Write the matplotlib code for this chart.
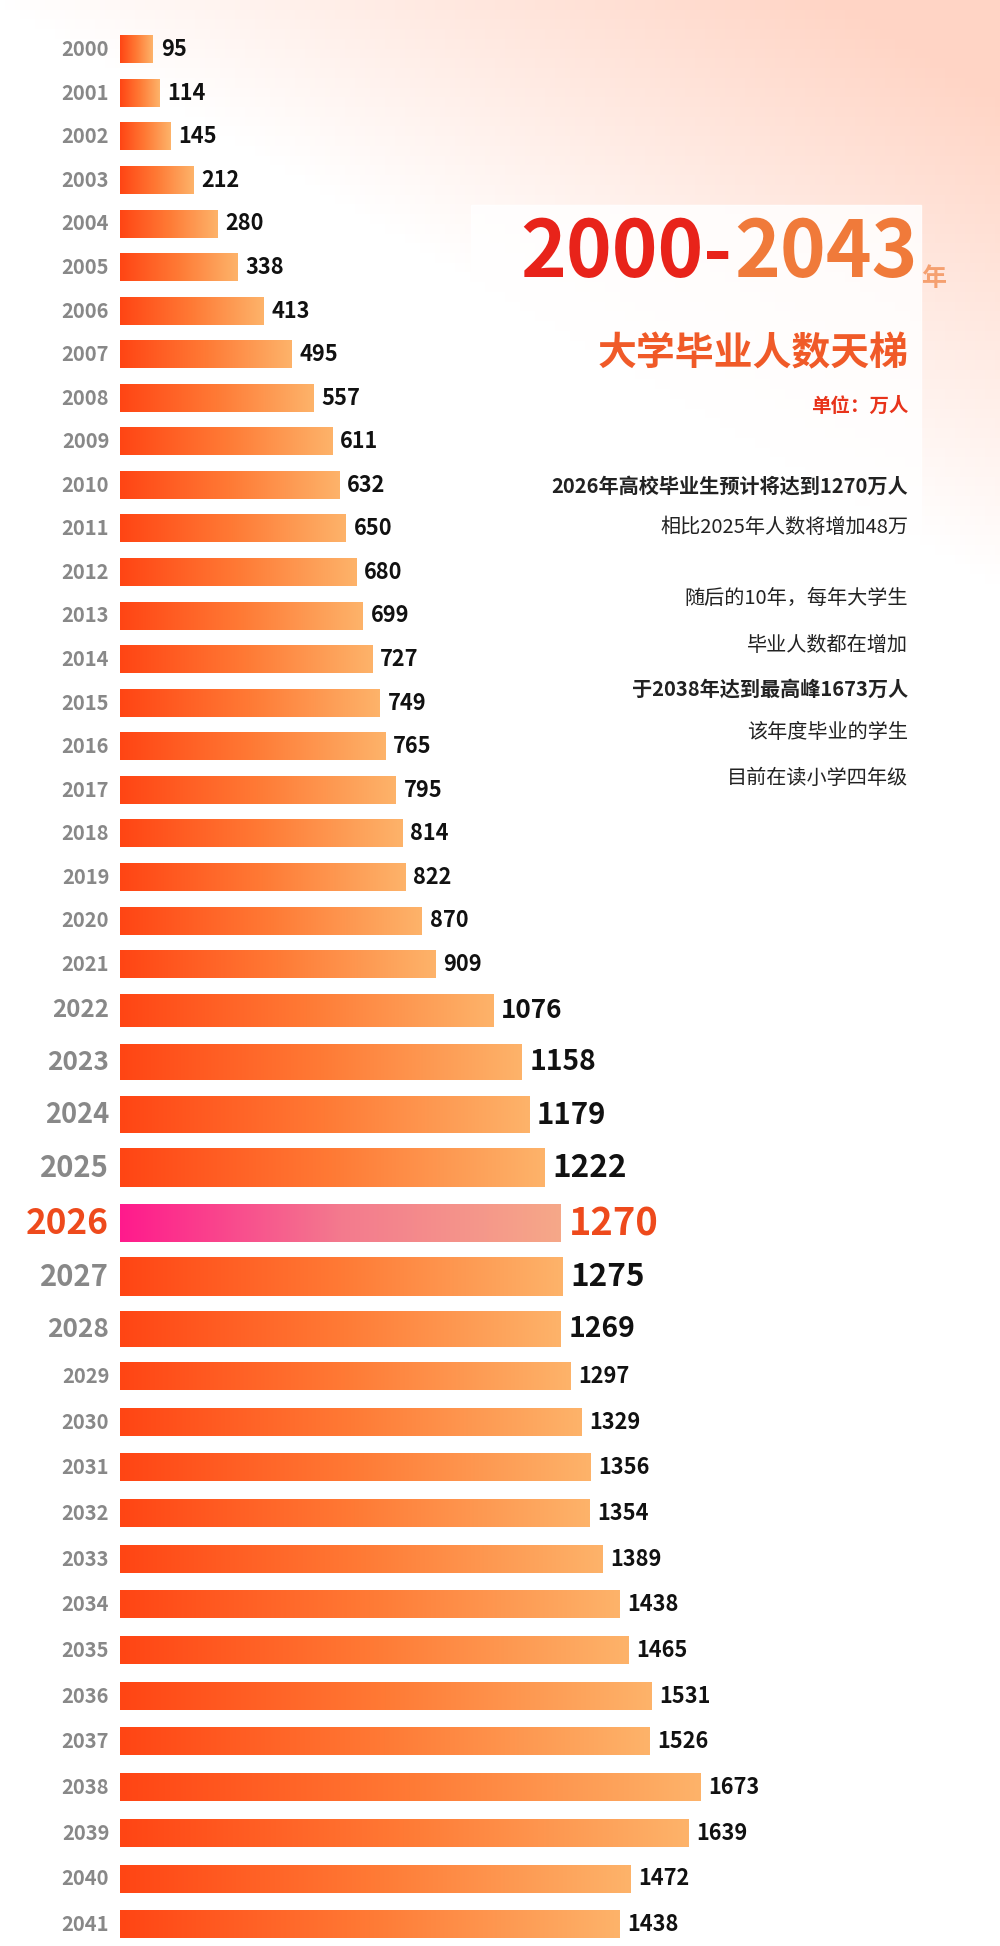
import numpy as np
import matplotlib.pyplot as plt
from matplotlib.colors import LinearSegmentedColormap

plt.rcParams['font.family'] = ['Noto Sans CJK SC', 'DejaVu Sans']

# 数据
years = list(range(2000, 2042))
values = [95, 114, 145, 212, 280, 338, 413, 495, 557, 611, 632, 650, 680, 699,
          727, 749, 765, 795, 814, 822, 870, 909, 1076, 1158, 1179, 1222, 1270,
          1275, 1269, 1297, 1329, 1356, 1354, 1389, 1438, 1465, 1531, 1526,
          1673, 1639, 1472, 1438]
highlight = 2026

# 行的位置(参考图像素)
ys = []
y = 40.0
for yr in years:
    ys.append(y)
    if yr < 2021:
        y += 35.1
    elif yr < 2029:
        y += {2021: 37, 2022: 42, 2023: 42, 2024: 43, 2025: 45, 2026: 43,
              2027: 42, 2028: 38}[yr]
    else:
        y += 36.8

def big(yr):
    return {2022: 1.2, 2023: 1.3, 2024: 1.35, 2025: 1.45, 2026: 1.75,
            2027: 1.45, 2028: 1.3}.get(yr, 1.0)

W, H = 806, 1568
fig = plt.figure(figsize=(10, 19.46), dpi=100)
ax = fig.add_axes([0, 0, 1, 1])
ax.set_xlim(0, W)
ax.set_ylim(H, 0)
ax.axis('off')

# 背景
bg = np.ones((200, 200, 3))
gx, gy = np.meshgrid(np.linspace(0, 1, 200), np.linspace(0, 1, 200))
t = np.clip(1.2 * gx - 4.0 * gy, 0, 1) * 0.3
bg[..., 1] -= t * 0.55
bg[..., 2] -= t * 0.75
ax.imshow(bg, extent=(0, W, H, 0), aspect='auto', zorder=0)
ax.add_patch(plt.Rectangle((380, 165), 362, 480, color='white', alpha=0.85, zorder=1))

x0 = 97
scale = (565 - x0) / 1673
grad = np.linspace(0, 1, 256).reshape(1, -1)
cm_bar = LinearSegmentedColormap.from_list('b', ['#ff4514', '#ff7a35', '#fdb36a'])
cm_hl = LinearSegmentedColormap.from_list('h', ['#ff1a8c', '#f37a8e', '#f6a888'])
num = ['Noto Sans CJK SC', 'DejaVu Sans']

for yr, v, yc in zip(years, values, ys):
    k = big(yr)
    bh = 22 * min(k, 1.4) if yr != highlight else 30
    x1 = x0 + v * scale
    cm = cm_hl if yr == highlight else cm_bar
    ax.imshow(grad, cmap=cm, extent=(x0, x1, yc + bh / 2, yc - bh / 2),
              aspect='auto', zorder=2)
    fs = 14.5 * k
    col = '#ee4a1c' if yr == highlight else '#888888'
    ax.text(88, yc, str(yr), ha='right', va='center', fontsize=fs,
            color=col, fontweight='bold', family=num, zorder=3)
    col = '#ee4a1c' if yr == highlight else '#111111'
    ax.text(x1 + 6, yc, str(v), ha='left', va='center', fontsize=fs * 1.08,
            color=col, fontweight='bold', family=num, zorder=3)

ax.set_xlim(0, W)
ax.set_ylim(H, 0)

# 标题
ax.text(590, 205, '2000-', ha='right', va='center', fontsize=56, color='#e8231a',
        fontweight='bold', family=num, zorder=4)
ax.text(592, 205, '2043', ha='left', va='center', fontsize=56, color='#f07a3a',
        fontweight='bold', family=num, zorder=4)
ax.text(742, 225, '年', ha='left', va='center', fontsize=18, color='#f5a070',
        fontweight='bold', zorder=4)
ax.text(732, 285, '大学毕业人数天梯', ha='right', va='center', fontsize=28,
        color='#f05a28', fontweight='bold', zorder=4)
ax.text(732, 327, '单位：万人', ha='right', va='center', fontsize=14,
        color='#e8331a', fontweight='bold', zorder=4)

lines = [('2026年高校毕业生预计将达到1270万人', 392, True),
         ('相比2025年人数将增加48万', 425, False),
         ('随后的10年，每年大学生', 482, False),
         ('毕业人数都在增加', 520, False),
         ('于2038年达到最高峰1673万人', 555, True),
         ('该年度毕业的学生', 590, False),
         ('目前在读小学四年级', 627, False)]
for s, yy, b in lines:
    ax.text(732, yy, s, ha='right', va='center', fontsize=14.5, color='#222222',
            fontweight='bold' if b else 'normal', zorder=4)

fig.savefig('out.png', dpi=100)
